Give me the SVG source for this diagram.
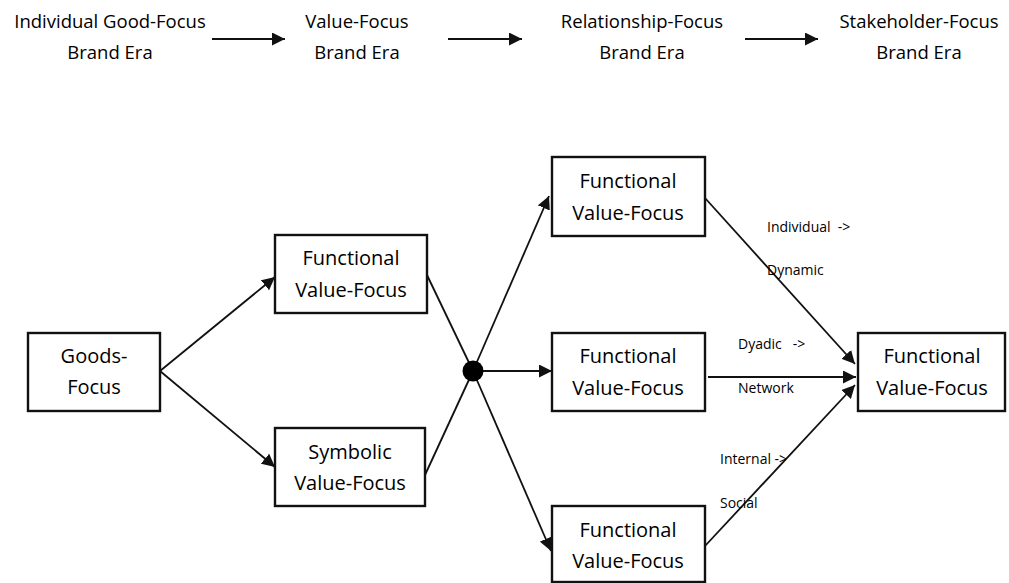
<svg xmlns="http://www.w3.org/2000/svg" width="1009" height="583" viewBox="0 0 1009 583">
<style>
.t{font-family:"Open Sans","Noto Sans",sans-serif;font-size:18.5px;fill:#000;text-anchor:middle}
.b{font-family:"Open Sans","Noto Sans",sans-serif;font-size:20px;fill:#000;text-anchor:middle}
.l{font-family:"Open Sans","Noto Sans",sans-serif;font-size:14px;fill:#000}
rect{fill:#fff;stroke:#111;stroke-width:2.4}
.c{stroke:#111;stroke-width:1.8;fill:none}
</style>
<defs>
<marker id="ah2" viewBox="0 0 10 10" refX="10" refY="5" markerWidth="13" markerHeight="13" markerUnits="userSpaceOnUse" orient="auto"><path d="M0,0L10,5L0,10z" fill="#111"/></marker>
</defs>
<g id="header">
<text class="t" x="110" y="28">Individual Good-Focus</text><text class="t" x="110" y="59">Brand Era</text>
<text class="t" x="357" y="28">Value-Focus</text><text class="t" x="357" y="59">Brand Era</text>
<text class="t" x="642" y="28">Relationship-Focus</text><text class="t" x="642" y="59">Brand Era</text>
<text class="t" x="919" y="28">Stakeholder-Focus</text><text class="t" x="919" y="59">Brand Era</text>
</g>
<g id="connectors">
<line class="c" x1="212" y1="39" x2="285" y2="39" marker-end="url(#ah2)"/>
<line class="c" x1="448" y1="39" x2="522" y2="39" marker-end="url(#ah2)"/>
<line class="c" x1="745" y1="39" x2="818" y2="39" marker-end="url(#ah2)"/>
<line class="c" x1="160" y1="371" x2="275" y2="277" marker-end="url(#ah2)"/>
<line class="c" x1="160" y1="371" x2="275" y2="467" marker-end="url(#ah2)"/>
<line class="c" x1="427" y1="275" x2="473" y2="371"/>
<line class="c" x1="425" y1="475" x2="473" y2="371"/>
<line class="c" x1="473" y1="371" x2="549" y2="196" marker-end="url(#ah2)"/>
<line class="c" x1="473" y1="371" x2="552" y2="371" marker-end="url(#ah2)"/>
<line class="c" x1="473" y1="371" x2="551" y2="551" marker-end="url(#ah2)"/>
<line class="c" x1="705" y1="198" x2="855" y2="364" marker-end="url(#ah2)"/>
<line class="c" x1="708" y1="377" x2="856" y2="377" marker-end="url(#ah2)"/>
<line class="c" x1="705" y1="546" x2="855" y2="385" marker-end="url(#ah2)"/>
<circle cx="473" cy="371" r="10.5" fill="#000"/>
<text class="l" x="767" y="232" xml:space="preserve">Individual  -&gt;</text>
<text class="l" x="767" y="275">Dynamic</text>
<text class="l" x="738" y="349" xml:space="preserve">Dyadic   -&gt;</text>
<text class="l" x="738" y="393">Network</text>
<text class="l" x="720" y="464">Internal -&gt;</text>
<text class="l" x="720" y="508">Social</text>
</g>
<g id="goods"><rect x="28" y="333" width="132" height="78"/><text class="b" x="94" y="363">Goods-</text><text class="b" x="94" y="394">Focus</text></g>
<g id="func1"><rect x="275" y="235" width="152" height="78"/><text class="b" x="351" y="265">Functional</text><text class="b" x="351" y="297">Value-Focus</text></g>
<g id="symb"><rect x="275" y="428" width="150" height="78"/><text class="b" x="350" y="459">Symbolic</text><text class="b" x="350" y="490">Value-Focus</text></g>
<g id="rtop"><rect x="552" y="157" width="153" height="79"/><text class="b" x="628" y="188">Functional</text><text class="b" x="628" y="220">Value-Focus</text></g>
<g id="rmid"><rect x="552" y="333" width="153" height="78"/><text class="b" x="628" y="363">Functional</text><text class="b" x="628" y="395">Value-Focus</text></g>
<g id="rbot"><rect x="552" y="506" width="153" height="76"/><text class="b" x="628" y="537">Functional</text><text class="b" x="628" y="568">Value-Focus</text></g>
<g id="final"><rect x="858" y="333" width="147" height="78"/><text class="b" x="932" y="363">Functional</text><text class="b" x="932" y="395">Value-Focus</text></g>
</svg>
